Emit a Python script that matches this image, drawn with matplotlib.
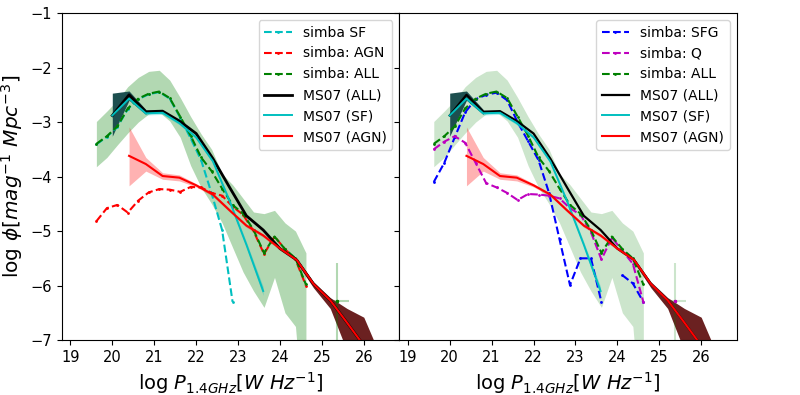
import numpy as np
import matplotlib
matplotlib.use('Agg')
import matplotlib.pyplot as plt

# simba luminosity bins
simba_x = np.array([19.62, 19.87, 20.12, 20.37, 20.62, 20.87, 21.12, 21.37, 21.62, 21.87,
                    22.12, 22.37, 22.62, 22.87, 23.12, 23.37, 23.62, 23.87, 24.12, 24.37,
                    24.62, 24.87, 25.12, 25.37])
nan = np.nan
simba_all = np.array([-3.40, -3.26, -3.08, -2.75, -2.57, -2.48, -2.44, -2.56, -2.90, -3.25,
                      -3.65, -3.90, -4.22, -4.52, -4.68, -4.98, -5.40, -5.10, -5.33, -5.50,
                      -5.98, nan, nan, -6.28])
simba_all_lo = np.array([-3.82, -3.65, -3.42, -3.20, -3.00, -2.85, -2.82, -2.98, -3.28, -3.80,
                         -4.20, -4.50, -4.85, -5.30, -5.75, -6.10, -6.40, -5.85, -6.50, -6.75,
                         -9.00, nan, nan, nan])
simba_all_hi = np.array([-2.99, -2.80, -2.60, -2.35, -2.18, -2.07, -2.05, -2.23, -2.55, -2.90,
                         -3.22, -3.50, -3.95, -4.15, -4.40, -4.65, -4.68, -4.62, -4.85, -5.00,
                         -5.40, nan, nan, nan])
simba_sf = np.array([-3.41, -3.27, -3.09, -2.76, -2.58, -2.49, -2.45, -2.57, -2.92, -3.30,
                     -3.70, -4.31, -4.98, -6.30, nan, nan, nan, nan, nan, nan,
                     nan, nan, nan, nan])
simba_agn = np.array([-4.82, -4.58, -4.52, -4.66, -4.44, -4.29, -4.23, -4.24, -4.28, -4.19,
                      -4.20, -4.30, -4.35, -4.55, -4.70, -5.00, -5.42, -5.10, -5.33, -5.52,
                      -6.00, nan, nan, -6.28])
simba_sfg = np.array([-4.10, -3.75, -3.28, -2.82, -2.58, -2.50, -2.46, -2.60, -3.00, -3.35,
                      -3.70, -4.30, -5.15, -5.99, -5.50, -5.50, -6.30, nan, -5.81, -5.96,
                      -6.30, nan, nan, nan])
simba_q = np.array([-3.50, -3.36, -3.26, -3.38, -3.75, -4.12, -4.20, -4.30, -4.43, -4.32,
                    -4.33, -4.35, -4.40, -4.58, -4.70, -5.02, -5.52, -5.12, -5.36, -5.60,
                    -6.30, nan, nan, -6.28])
# single isolated point errors (index 23)
pt_yerr = [[2.0], [0.69]]
pt_xerr = [[0.08], [0.27]]

# Mauch & Sadler 2007
ms_x = np.array([20.0, 20.4, 20.8, 21.2, 21.6, 22.0, 22.4, 22.8, 23.2, 23.6, 24.0, 24.4,
                 24.8, 25.2, 25.6, 26.0, 26.4])
ms_all = np.array([-2.88, -2.50, -2.81, -2.80, -2.98, -3.21, -3.67, -4.20, -4.72, -4.98,
                   -5.32, -5.53, -5.97, -6.27, -6.68, -7.10, -7.60])
ms_all_lo = np.array([-3.26, -2.60, -2.86, -2.83, -3.01, -3.24, -3.70, -4.23, -4.75, -5.01,
                      -5.35, -5.58, -6.04, -6.42, -7.20, -7.80, -8.50])
ms_all_hi = np.array([-2.47, -2.43, -2.77, -2.77, -2.95, -3.18, -3.64, -4.17, -4.69, -4.95,
                      -5.29, -5.50, -5.93, -6.22, -6.42, -6.58, -7.30])
ms_sf = np.array([-2.88, -2.57, -2.84, -2.83, -3.02, -3.28, -3.72, -4.45, -5.25, -6.10,
                  nan, nan, nan, nan, nan, nan, nan])
ms_sf_err = np.array([0.03, 0.03, 0.03, 0.03, 0.03, 0.03, 0.03, 0.04, 0.05, 0.08,
                      nan, nan, nan, nan, nan, nan, nan])
ms_agn = np.array([nan, -3.62, -3.77, -3.99, -4.02, -4.16, -4.33, -4.62, -4.90, -5.08,
                   -5.32, -5.53, -5.97, -6.27, -6.68, -7.10, -7.60])
ms_agn_lo = np.array([nan, -4.17, -3.90, -4.05, -4.08, -4.19, -4.36, -4.65, -4.93, -5.11,
                      -5.35, -5.56, -6.00, -6.30, -6.72, -7.15, -7.65])
ms_agn_hi = np.array([nan, -3.09, -3.65, -3.93, -3.97, -4.13, -4.30, -4.59, -4.87, -5.05,
                      -5.29, -5.50, -5.94, -6.24, -6.64, -7.05, -7.55])

plt.rcParams['font.size'] = 10.5
fig, axes = plt.subplots(1, 2, figsize=(8, 3.95), dpi=100, sharey=True)
fig.subplots_adjust(left=0.0775, right=0.921, bottom=0.139, top=0.967, wspace=0)

panels = [
    [('simba SF', simba_sf, 'c'), ('simba: AGN', simba_agn, 'r'), ('simba: ALL', simba_all, 'g')],
    [('simba: SFG', simba_sfg, 'b'), ('simba: Q', simba_q, 'm'), ('simba: ALL', simba_all, 'g')],
]
band_alpha = [0.3, 0.2]
centre_col = ['g', 'm']

for k, ax in enumerate(axes):
    ax.fill_between(simba_x, simba_all_lo, simba_all_hi, color='g', alpha=band_alpha[k], lw=0)
    ax.errorbar(simba_x[23], simba_all[23], yerr=pt_yerr, xerr=pt_xerr, fmt='none',
                ecolor='g', alpha=band_alpha[k], elinewidth=1.5)
    # MS07 bands
    ax.fill_between(ms_x, ms_sf - ms_sf_err, ms_sf + ms_sf_err, color='c', alpha=0.3, lw=0)
    ax.fill_between(ms_x, ms_agn_lo, ms_agn_hi, color='r', alpha=0.3, lw=0)
    ax.fill_between(ms_x, ms_all_lo, ms_all_hi, where=ms_x <= 20.8, color='#1d4f4f', lw=0)
    ax.fill_between(ms_x, ms_all_lo, ms_all_hi, where=ms_x >= 24.4, color='#6b2121', lw=0)

    for lab, y, c in panels[k]:
        ax.plot(simba_x, y, '--', color=c, marker='.', markersize=2, lw=1.5, label=lab)
    ax.plot(simba_x[23], simba_all[23], '.', color=centre_col[k], markersize=3)

    ax.plot(ms_x, ms_all, color='k', lw=2 if k == 0 else 1.6, label='MS07 (ALL)')
    ax.plot(ms_x, ms_sf, color='c', lw=1.4, label='MS07 (SF)')
    ax.plot(ms_x, ms_agn, color='r', lw=1.5, label='MS07 (AGN)')

    ax.set_xlim(18.8, 26.85)
    ax.set_ylim(-7, -1)
    ax.set_xticks(range(19, 27))
    ax.set_xlabel(r'log $P_{1.4GHz}[W\ Hz^{-1}]$', fontsize=14)
    ax.legend(loc='upper right', fontsize=10)

axes[0].set_ylabel(r'log $\phi[mag^{-1}\ Mpc^{-3}]$', fontsize=14.5)

fig.savefig('out.png')
